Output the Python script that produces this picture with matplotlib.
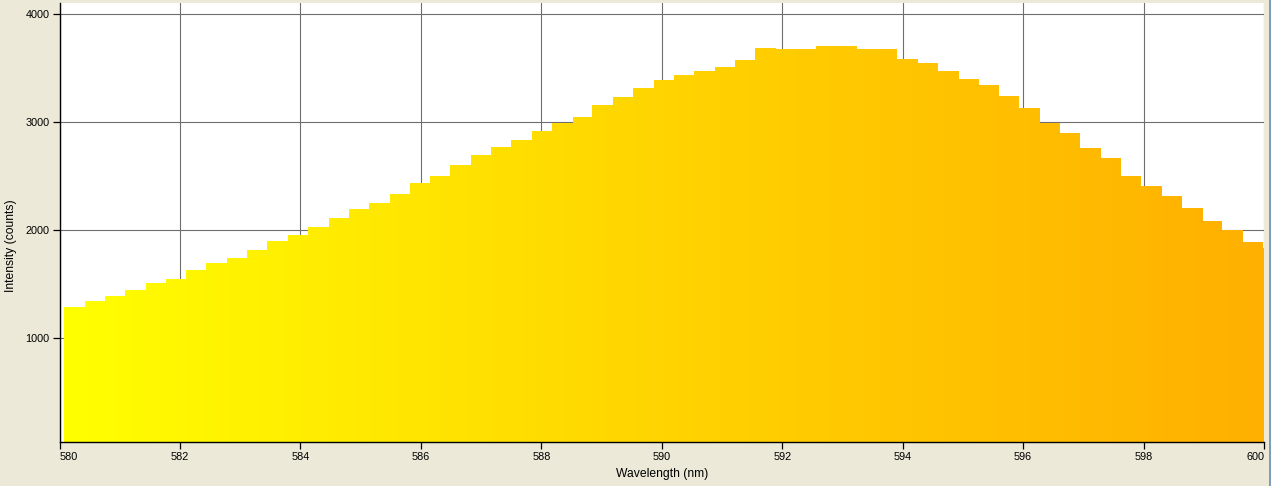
import numpy as np
import matplotlib
matplotlib.use("Agg")
import matplotlib.pyplot as plt
from matplotlib.colors import LinearSegmentedColormap
from matplotlib.patches import Rectangle

# ---- data ----
wavelength_nm = [
    580.08, 580.42, 580.75, 581.09, 581.43, 581.77, 582.10, 582.44, 582.78, 583.12,
    583.45, 583.79, 584.13, 584.47, 584.80, 585.14, 585.48, 585.82, 586.15, 586.49,
    586.83, 587.17, 587.50, 587.84, 588.18, 588.52, 588.85, 589.19, 589.53, 589.87,
    590.20, 590.54, 590.88, 591.21, 591.55, 591.89, 592.23, 592.56, 592.90, 593.24,
    593.58, 593.91, 594.25, 594.59, 594.93, 595.26, 595.60, 595.94, 596.28, 596.61,
    596.95, 597.29, 597.63, 597.96, 598.30, 598.64, 598.98, 599.31, 599.65, 599.99,
]
intensity_counts = [
    1290, 1346, 1392, 1448, 1512, 1549, 1633, 1698, 1744, 1818,
    1901, 1957, 2031, 2114, 2198, 2253, 2336, 2438, 2503, 2605,
    2698, 2772, 2836, 2920, 2994, 3049, 3160, 3235, 3318, 3392,
    3438, 3475, 3512, 3577, 3688, 3679, 3679, 3707, 3707, 3679,
    3679, 3586, 3549, 3475, 3401, 3346, 3244, 3133, 2994, 2901,
    2762, 2670, 2503, 2410, 2318, 2207, 2086, 2003, 1892, 1836,
]
bin_width_nm = 0.3374
x_ticks = [580, 582, 584, 586, 588, 590, 592, 594, 596, 598, 600]
y_ticks = [1000, 2000, 3000, 4000]
x_label = "Wavelength (nm)"
y_label = "Intensity (counts)"

W, H = 1271, 486
fig = plt.figure(figsize=(W / 100, H / 100), dpi=100)
fig.patch.set_facecolor("#ECE9D8")

ax = fig.add_axes([59.5 / W, (H - 442) / H, (1264 - 59.5) / W, (442 - 3) / H])
ax.set_facecolor("white")
xmin, xmax = 580, 600
ymin, ymax = 37, 4105
ax.set_xlim(xmin, xmax)
ax.set_ylim(ymin, ymax)

# step outline of the histogram-like bars
edges = list(wavelength_nm) + [wavelength_nm[-1] + bin_width_nm]
vals = list(intensity_counts) + [intensity_counts[-1]]
poly = ax.fill_between(edges, ymin, vals, step="post", facecolor="none",
                       edgecolor="none", zorder=2)

cmap = LinearSegmentedColormap.from_list("yel", ["#FFFF00", "#FFD400", "#FFB000"])
grad = np.linspace(0, 1, 512).reshape(1, -1)
im = ax.imshow(grad, cmap=cmap, aspect="auto", extent=[xmin, xmax, ymin, ymax],
               origin="lower", zorder=2, interpolation="bilinear")
path = poly.get_paths()[0]
im.set_clip_path(path, transform=ax.transData)
ax.set_xlim(xmin, xmax)
ax.set_ylim(ymin, ymax)

# grid
ax.set_xticks(x_ticks)
ax.set_yticks(y_ticks)
ax.grid(True, color="#6E6E6E", linewidth=0.8, zorder=1)
ax.set_axisbelow(True)

for s in ["top", "right"]:
    ax.spines[s].set_visible(False)
for s in ["left", "bottom"]:
    ax.spines[s].set_color("black")
    ax.spines[s].set_linewidth(1.0)
    ax.spines[s].set_zorder(5)

ax.tick_params(axis="both", direction="out", length=5, width=0.9, color="black",
               labelsize=7.8, labelcolor="black")
ax.tick_params(axis="x", pad=2.5)
ax.tick_params(axis="y", pad=2)
xlabels = [str(t) for t in x_ticks]
ax.set_xticklabels(xlabels, family="Liberation Sans")
ax.set_yticklabels([str(t) for t in y_ticks], family="Liberation Sans")
tl = ax.get_xticklabels()
tl[0].set_horizontalalignment("left")
tl[-1].set_horizontalalignment("right")

fig.text(662 / W, 1 - 474 / H, x_label, ha="center", va="center",
         fontsize=8.7, family="Liberation Sans")
fig.text(11.5 / W, 1 - 245.5 / H, y_label, ha="center", va="center",
         rotation=90, fontsize=8.7, family="Liberation Sans")

# window border on the right edge
fig.patches.append(Rectangle((1269 / W, 0), 2 / W, 1, transform=fig.transFigure,
                             facecolor="#7F9DB9", edgecolor="none"))

fig.savefig("out.png", dpi=100, facecolor=fig.get_facecolor())
